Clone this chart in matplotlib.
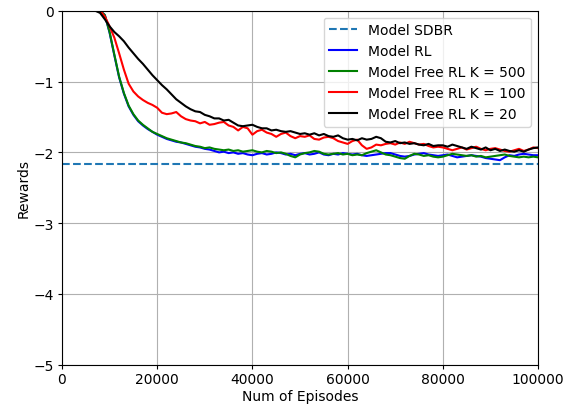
import matplotlib
matplotlib.use('Agg')
import matplotlib.pyplot as plt
import numpy as np

episodes = np.arange(0, 100001, 1000)

sdbr_reward = -2.16

rl_rewards = [
    0, 0, 0, 0, 0, 0, 0, 0, 0, -0.06,
    -0.31, -0.63, -0.94, -1.17, -1.35, -1.47, -1.56, -1.62, -1.67, -1.71,
    -1.75, -1.78, -1.81, -1.83, -1.85, -1.86, -1.88, -1.90, -1.92, -1.93,
    -1.95, -1.96, -1.98, -2.00, -1.99, -2.01, -2.00, -2.02, -2.01, -2.03,
    -2.04, -2.02, -2.01, -2.03, -2.02, -2.00, -2.01, -2.03, -2.02, -2.04,
    -2.02, -2.01, -2.03, -2.02, -2.00, -2.03, -2.04, -2.02, -2.03, -2.01,
    -2.02, -2.03, -2.02, -2.04, -2.05, -2.04, -2.03, -2.02, -2.01, -2.01,
    -2.03, -2.05, -2.06, -2.05, -2.03, -2.02, -2.01, -2.03, -2.04, -2.05,
    -2.04, -2.03, -2.05, -2.07, -2.06, -2.05, -2.04, -2.05, -2.06, -2.08,
    -2.09, -2.10, -2.11, -2.07, -2.04, -2.05, -2.03, -2.02, -2.03, -2.04,
    -2.04,
]

k500_rewards = [
    0, 0, 0, 0, 0, 0, 0, 0, 0, -0.06,
    -0.30, -0.62, -0.93, -1.16, -1.34, -1.46, -1.55, -1.61, -1.66, -1.71,
    -1.74, -1.77, -1.80, -1.82, -1.84, -1.86, -1.87, -1.89, -1.91, -1.92,
    -1.94, -1.93, -1.95, -1.96, -1.97, -1.96, -1.98, -1.97, -1.99, -1.98,
    -1.97, -1.99, -2.00, -1.98, -1.99, -2.01, -2.00, -2.02, -2.05, -2.07,
    -2.03, -2.01, -2.00, -1.98, -1.99, -2.02, -2.03, -2.02, -2.01, -2.03,
    -2.02, -2.04, -2.03, -2.04, -2.01, -1.99, -1.97, -2.00, -2.03, -2.04,
    -2.06, -2.08, -2.09, -2.05, -2.02, -2.03, -2.05, -2.04, -2.06, -2.07,
    -2.06, -2.04, -2.02, -2.03, -2.04, -2.05, -2.04, -2.06, -2.05, -2.07,
    -2.06, -2.05, -2.04, -2.03, -2.05, -2.06, -2.07, -2.06, -2.07, -2.06,
    -2.07,
]

k100_rewards = [
    0, 0, 0, 0, 0, 0, 0, 0, 0, -0.08,
    -0.22, -0.38, -0.60, -0.83, -1.03, -1.14, -1.21, -1.26, -1.30, -1.33,
    -1.37, -1.44, -1.46, -1.45, -1.43, -1.49, -1.53, -1.55, -1.56, -1.59,
    -1.57, -1.61, -1.60, -1.58, -1.57, -1.62, -1.64, -1.69, -1.64, -1.66,
    -1.75, -1.70, -1.68, -1.72, -1.74, -1.78, -1.74, -1.72, -1.77, -1.80,
    -1.77, -1.78, -1.76, -1.81, -1.82, -1.79, -1.78, -1.80, -1.84, -1.86,
    -1.88, -1.84, -1.82, -1.90, -1.95, -1.93, -1.89, -1.90, -1.88, -1.87,
    -1.89, -1.86, -1.88, -1.85, -1.87, -1.89, -1.88, -1.91, -1.93, -1.92,
    -1.93, -1.95, -1.97, -1.95, -1.93, -1.96, -1.94, -1.92, -1.95, -1.97,
    -1.95, -1.94, -1.96, -1.98, -1.99, -1.97, -1.95, -1.98, -1.96, -1.93,
    -1.94,
]

k20_rewards = [
    0, 0, 0, 0, 0, 0, 0, 0, -0.03, -0.12,
    -0.22, -0.30, -0.36, -0.43, -0.52, -0.60, -0.68, -0.75, -0.83, -0.91,
    -0.98, -1.05, -1.11, -1.18, -1.25, -1.30, -1.35, -1.39, -1.42, -1.43,
    -1.47, -1.49, -1.52, -1.52, -1.55, -1.54, -1.58, -1.62, -1.63, -1.62,
    -1.61, -1.64, -1.66, -1.66, -1.69, -1.68, -1.70, -1.71, -1.70, -1.72,
    -1.74, -1.73, -1.75, -1.73, -1.76, -1.74, -1.77, -1.78, -1.76, -1.80,
    -1.82, -1.81, -1.83, -1.80, -1.82, -1.81, -1.78, -1.80, -1.85, -1.86,
    -1.84, -1.87, -1.86, -1.88, -1.87, -1.89, -1.90, -1.88, -1.91, -1.90,
    -1.90, -1.92, -1.89, -1.91, -1.93, -1.95, -1.92, -1.94, -1.96, -1.93,
    -1.97, -1.95, -1.98, -1.96, -1.98, -1.99, -1.97, -1.99, -1.96, -1.94,
    -1.93,
]

fig = plt.figure(figsize=(5.82, 4.06), dpi=100)
ax = fig.add_axes([0.1065, 0.099, 0.818, 0.872])

ax.plot(episodes, [sdbr_reward] * len(episodes), '--', color='#1f77b4', lw=1.5, label='Model SDBR')
ax.plot(episodes, rl_rewards, 'b-', lw=1.5, label='Model RL')
ax.plot(episodes, k500_rewards, 'g-', lw=1.5, label='Model Free RL K = 500')
ax.plot(episodes, k100_rewards, 'r-', lw=1.5, label='Model Free RL K = 100')
ax.plot(episodes, k20_rewards, 'k-', lw=1.5, label='Model Free RL K = 20')

ax.set_xlim(0, 100000)
ax.set_ylim(-5, 0)
ax.set_xticks([0, 20000, 40000, 60000, 80000, 100000])
ax.set_yticks([-5, -4, -3, -2, -1, 0])
ax.tick_params(length=3, pad=2.5)
ax.grid(True)
ax.set_xlabel('Num of Episodes', labelpad=1.5)
ax.set_ylabel('Rewards', labelpad=2)
ax.legend(loc='upper right')

fig.savefig('out.png', dpi=100)
